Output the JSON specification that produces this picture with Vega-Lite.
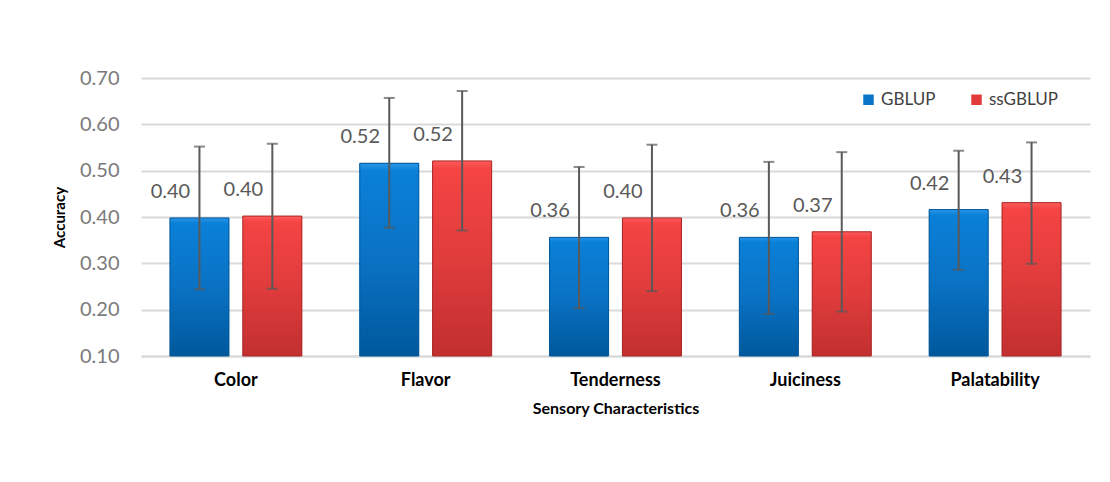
{
  "$schema": "https://vega.github.io/schema/vega-lite/v6.json",
  "width": 949,
  "height": 278,
  "autosize": {"type": "none"},
  "padding": {"left": 141, "top": 78, "right": 20, "bottom": 126},
  "background": "white",
  "config": {
    "view": {"stroke": null},
    "font": "Lato"
  },
  "data": {
    "values": [
      {"cat": "Color", "model": "GBLUP", "value": 0.398, "lo": 0.244, "hi": 0.552},
      {"cat": "Color", "model": "ssGBLUP", "value": 0.402, "lo": 0.245, "hi": 0.558},
      {"cat": "Flavor", "model": "GBLUP", "value": 0.516, "lo": 0.377, "hi": 0.657},
      {"cat": "Flavor", "model": "ssGBLUP", "value": 0.521, "lo": 0.371, "hi": 0.672},
      {"cat": "Tenderness", "model": "GBLUP", "value": 0.356, "lo": 0.203, "hi": 0.508},
      {"cat": "Tenderness", "model": "ssGBLUP", "value": 0.398, "lo": 0.240, "hi": 0.556},
      {"cat": "Juiciness", "model": "GBLUP", "value": 0.356, "lo": 0.191, "hi": 0.519},
      {"cat": "Juiciness", "model": "ssGBLUP", "value": 0.368, "lo": 0.196, "hi": 0.540},
      {"cat": "Palatability", "model": "GBLUP", "value": 0.416, "lo": 0.286, "hi": 0.543},
      {"cat": "Palatability", "model": "ssGBLUP", "value": 0.431, "lo": 0.299, "hi": 0.561}
    ]
  },
  "encoding": {
    "x": {
      "field": "cat",
      "type": "nominal",
      "sort": ["Color", "Flavor", "Tenderness", "Juiciness", "Palatability"],
      "scale": {"paddingInner": 0.305, "paddingOuter": 0.1525},
      "axis": {
        "title": "Sensory Characteristics",
        "titleFont": "Lato",
        "titleFontSize": 16,
        "titleFontWeight": "bold",
        "titleColor": "#000000",
        "titlePadding": 11,
        "labelAngle": 0,
        "labelFont": "Lato",
        "labelFontSize": 18,
        "labelFontWeight": "bold",
        "labelColor": "#000000",
        "labelPadding": 15,
        "ticks": false,
        "domainColor": "#d9d9d9",
        "domainWidth": 2
      }
    },
    "xOffset": {
      "field": "model",
      "type": "nominal",
      "scale": {"paddingInner": 0.19, "paddingOuter": 0}
    }
  },
  "layer": [
    {
      "mark": {"type": "bar"},
      "encoding": {
        "y": {
          "field": "value",
          "type": "quantitative",
          "scale": {"domain": [0.1, 0.7], "zero": false, "nice": false},
          "axis": {
            "title": "Accuracy",
            "titleFont": "Lato",
            "titleFontSize": 15,
            "titleFontWeight": "bold",
            "titleColor": "#000000",
            "titlePadding": 12,
            "values": [0.1, 0.2, 0.3, 0.4, 0.5, 0.6, 0.7],
            "format": ".2f",
            "labelFont": "Lato",
            "labelFontSize": 20,
            "labelColor": "#7a7a7a",
            "labelPadding": 22,
            "ticks": false,
            "domain": false,
            "gridColor": "#d9d9d9",
            "gridWidth": 2
          }
        },
        "y2": {"datum": 0.1},
        "color": {
          "field": "model",
          "type": "nominal",
          "scale": {"domain": ["GBLUP", "ssGBLUP"], "range": ["#0a74c8", "#e03a3a"]},
          "legend": {
            "title": null,
            "orient": "none",
            "legendX": 719,
            "legendY": 13,
            "direction": "horizontal",
            "columns": 2,
            "symbolType": "square",
            "symbolSize": 110,
            "symbolStrokeWidth": 0,
            "labelFont": "Lato",
            "labelFontSize": 17,
            "labelColor": "#404040",
            "labelOffset": 4,
            "columnPadding": 32
          }
        }
      }
    },
    {
      "transform": [{"filter": "datum.model === 'GBLUP'"}],
      "mark": {
        "type": "bar",
        "stroke": "#00579a",
        "strokeWidth": 1,
        "fill": {
          "gradient": "linear", "x1": 0, "y1": 0, "x2": 0, "y2": 1,
          "stops": [
            {"offset": 0, "color": "#2a95e8"},
            {"offset": 0.04, "color": "#0a80d8"},
            {"offset": 0.5, "color": "#0a72c4"},
            {"offset": 1, "color": "#00589c"}
          ]
        }
      },
      "encoding": {
        "y": {"field": "value", "type": "quantitative"},
        "y2": {"datum": 0.1}
      }
    },
    {
      "transform": [{"filter": "datum.model === 'ssGBLUP'"}],
      "mark": {
        "type": "bar",
        "stroke": "#a82626",
        "strokeWidth": 1,
        "fill": {
          "gradient": "linear", "x1": 0, "y1": 0, "x2": 0, "y2": 1,
          "stops": [
            {"offset": 0, "color": "#ff5c5c"},
            {"offset": 0.04, "color": "#f54444"},
            {"offset": 0.5, "color": "#e03c3c"},
            {"offset": 1, "color": "#c22f2f"}
          ]
        }
      },
      "encoding": {
        "y": {"field": "value", "type": "quantitative"},
        "y2": {"datum": 0.1}
      }
    },
    {
      "mark": {"type": "rule", "color": "#595959", "strokeWidth": 2},
      "encoding": {
        "y": {"field": "lo", "type": "quantitative"},
        "y2": {"field": "hi"}
      }
    },
    {
      "mark": {"type": "tick", "color": "#595959", "thickness": 2, "size": 11},
      "encoding": {
        "y": {"field": "lo", "type": "quantitative"}
      }
    },
    {
      "mark": {"type": "tick", "color": "#595959", "thickness": 2, "size": 11},
      "encoding": {
        "y": {"field": "hi", "type": "quantitative"}
      }
    },
    {
      "mark": {"type": "text", "font": "Lato", "fontSize": 20, "color": "#595959", "dx": -29, "dy": -26, "align": "center", "baseline": "middle"},
      "encoding": {
        "y": {"field": "value", "type": "quantitative"},
        "text": {"field": "value", "type": "quantitative", "format": ".2f"}
      }
    }
  ]
}
